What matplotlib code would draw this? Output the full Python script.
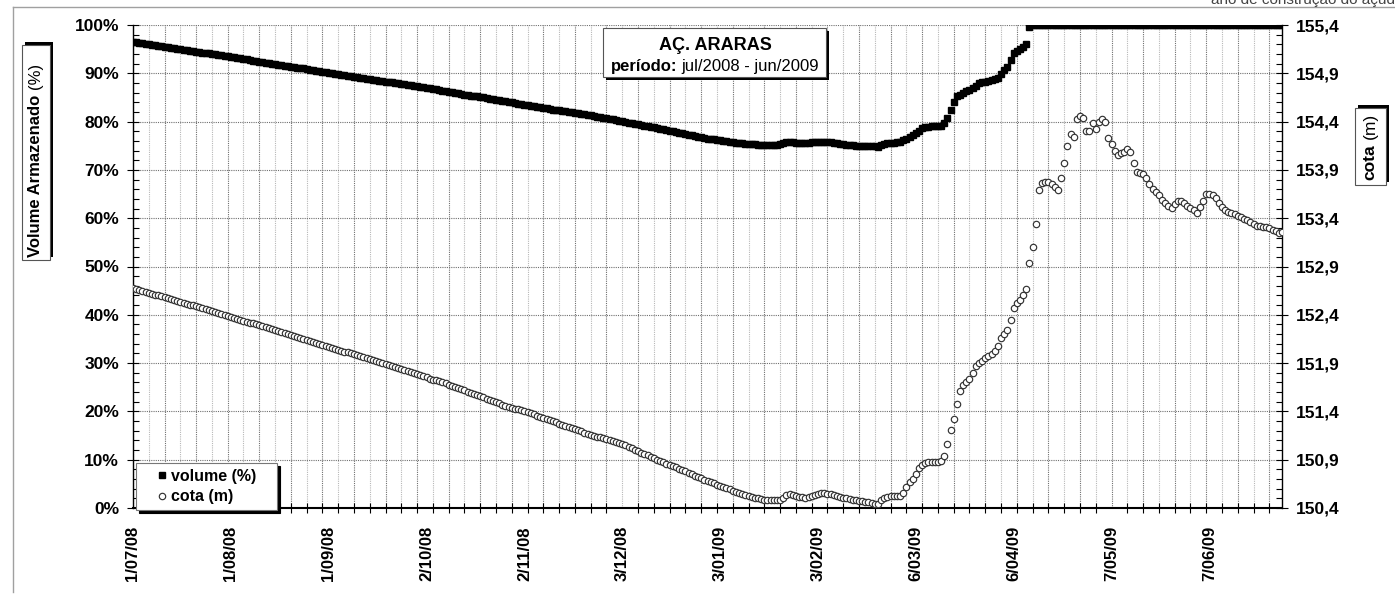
import matplotlib
matplotlib.use("Agg")
import matplotlib.pyplot as plt
from matplotlib.patches import Rectangle
from matplotlib.lines import Line2D
from matplotlib.ticker import MultipleLocator, FuncFormatter

plt.rcParams['font.family'] = ['Liberation Sans Narrow', 'Liberation Sans', 'DejaVu Sans']

# daily reservoir level (cota, m), jul/2008 - jun/2009
cota_jul = [152.68, 152.67, 152.66, 152.65, 152.64, 152.63, 152.62, 152.61, 152.60, 152.59, 152.58,
            152.57, 152.56, 152.55, 152.54, 152.53, 152.52, 152.51, 152.50, 152.50, 152.49, 152.48,
            152.47, 152.46, 152.45, 152.44, 152.43, 152.42, 152.41, 152.40, 152.39]
cota_aug = [152.38, 152.37, 152.36, 152.35, 152.34, 152.33, 152.32, 152.31, 152.30, 152.29, 152.28,
            152.27, 152.26, 152.25, 152.24, 152.23, 152.22, 152.21, 152.20, 152.19, 152.18, 152.17,
            152.16, 152.15, 152.14, 152.13, 152.12, 152.11, 152.10, 152.09, 152.08]
cota_sep = [152.07, 152.06, 152.05, 152.04, 152.03, 152.02, 152.01, 152.00, 151.99, 151.98, 151.97,
            151.96, 151.95, 151.94, 151.93, 151.92, 151.91, 151.90, 151.89, 151.88, 151.87, 151.86,
            151.85, 151.84, 151.83, 151.82, 151.81, 151.80, 151.79, 151.78]
cota_oct = [151.77, 151.76, 151.74, 151.73, 151.72, 151.71, 151.70, 151.69, 151.67, 151.66, 151.65,
            151.64, 151.63, 151.62, 151.60, 151.59, 151.58, 151.57, 151.56, 151.55, 151.53, 151.52,
            151.51, 151.50, 151.49, 151.47, 151.46, 151.45, 151.44, 151.43, 151.42]
cota_nov = [151.41, 151.40, 151.39, 151.38, 151.37, 151.35, 151.34, 151.33, 151.32, 151.31, 151.30,
            151.29, 151.27, 151.26, 151.25, 151.24, 151.23, 151.22, 151.21, 151.20, 151.18, 151.17,
            151.16, 151.15, 151.14, 151.13, 151.12, 151.11, 151.10, 151.09]
cota_dec = [151.08, 151.07, 151.06, 151.05, 151.03, 151.02, 151.00, 150.99, 150.97, 150.96, 150.95,
            150.93, 150.92, 150.90, 150.89, 150.88, 150.86, 150.85, 150.83, 150.82, 150.80, 150.79,
            150.78, 150.76, 150.75, 150.73, 150.72, 150.71, 150.69, 150.68, 150.67]
cota_jan = [150.655, 150.64, 150.63, 150.62, 150.61, 150.595, 150.58, 150.57, 150.56, 150.55, 150.535,
            150.525, 150.515, 150.505, 150.50, 150.49, 150.485, 150.48, 150.48, 150.48, 150.48, 150.48,
            150.50, 150.535, 150.54, 150.535, 150.525, 150.515, 150.51, 150.50, 150.51]
cota_feb = [150.525, 150.535, 150.55, 150.56, 150.555, 150.55, 150.545, 150.535, 150.525, 150.515,
            150.505, 150.50, 150.49, 150.485, 150.48, 150.475, 150.47, 150.465, 150.46, 150.455,
            150.445, 150.44, 150.485, 150.50, 150.515, 150.525, 150.525, 150.525]
cota_mar = [150.525, 150.56, 150.62, 150.665, 150.705, 150.75, 150.81, 150.845, 150.87, 150.875,
            150.875, 150.875, 150.875, 150.89, 150.94, 151.06, 151.205, 151.32, 151.475, 151.61,
            151.675, 151.705, 151.735, 151.80, 151.865, 151.90, 151.92, 151.95, 151.975, 151.995, 152.03]
cota_apr = [152.075, 152.16, 152.20, 152.24, 152.35, 152.47, 152.52, 152.555, 152.60, 152.67,
            152.935, 153.105, 153.345, 153.695, 153.765, 153.77, 153.77, 153.75, 153.725, 153.695,
            153.815, 153.975, 154.15, 154.27, 154.245, 154.425, 154.46, 154.435, 154.305, 154.30]
cota_may = [154.39, 154.32, 154.40, 154.425, 154.40, 154.23, 154.165, 154.10, 154.055, 154.07,
            154.09, 154.12, 154.085, 153.975, 153.88, 153.87, 153.855, 153.815, 153.755, 153.705,
            153.675, 153.635, 153.59, 153.555, 153.53, 153.505, 153.545, 153.575, 153.58, 153.56, 153.53]
cota_jun = [153.51, 153.48, 153.455, 153.52, 153.58, 153.65, 153.65, 153.64, 153.605, 153.56,
            153.52, 153.49, 153.465, 153.455, 153.44, 153.425, 153.41, 153.39, 153.38, 153.365,
            153.34, 153.32, 153.315, 153.31, 153.305, 153.295, 153.28, 153.265, 153.25, 153.26]

# daily stored volume (%)
vol_jul = [96.5, 96.4, 96.3, 96.2, 96.1, 96.0, 95.9, 95.8, 95.7, 95.6, 95.5, 95.4, 95.3, 95.2, 95.1, 95.0,
           94.9, 94.8, 94.7, 94.6, 94.5, 94.4, 94.3, 94.2, 94.1, 94.0, 93.9, 93.8, 93.7, 93.6, 93.5]
vol_aug = [93.4, 93.3, 93.2, 93.1, 93.0, 92.9, 92.8, 92.6, 92.5, 92.4, 92.3, 92.2, 92.1, 92.0, 91.9, 91.8,
           91.7, 91.6, 91.5, 91.4, 91.3, 91.2, 91.1, 91.0, 90.8, 90.7, 90.6, 90.5, 90.4, 90.3, 90.2]
vol_sep = [90.1, 90.0, 89.9, 89.8, 89.7, 89.6, 89.5, 89.4, 89.3, 89.2, 89.1, 89.0, 88.9, 88.8, 88.7, 88.6,
           88.5, 88.4, 88.3, 88.2, 88.1, 88.0, 87.9, 87.8, 87.7, 87.6, 87.5, 87.4, 87.3, 87.2]
vol_oct = [87.1, 87.0, 86.9, 86.8, 86.7, 86.5, 86.4, 86.3, 86.2, 86.1, 86.0, 85.9, 85.8, 85.6, 85.5, 85.4,
           85.3, 85.2, 85.1, 85.0, 84.9, 84.7, 84.6, 84.5, 84.4, 84.3, 84.2, 84.1, 84.0, 83.8, 83.7]
vol_nov = [83.6, 83.5, 83.4, 83.3, 83.2, 83.1, 83.0, 82.9, 82.8, 82.7, 82.5, 82.4, 82.3, 82.2, 82.1, 82.0,
           81.9, 81.8, 81.7, 81.6, 81.5, 81.4, 81.3, 81.2, 81.0, 80.9, 80.8, 80.7, 80.6, 80.5]
vol_dec = [80.3, 80.2, 80.1, 79.9, 79.8, 79.7, 79.5, 79.4, 79.3, 79.1, 79.0, 78.9, 78.8, 78.6, 78.5, 78.4,
           78.2, 78.1, 78.0, 77.8, 77.7, 77.6, 77.4, 77.3, 77.2, 77.1, 76.9, 76.8, 76.7, 76.5, 76.4]
vol_jan = [76.3, 76.2, 76.1, 76.0, 75.9, 75.8, 75.7, 75.6, 75.6, 75.5, 75.4, 75.4, 75.3, 75.3, 75.2, 75.2,
           75.2, 75.2, 75.2, 75.2, 75.2, 75.3, 75.6, 75.8, 75.8, 75.7, 75.6, 75.6, 75.5, 75.5, 75.6]
vol_feb = [75.7, 75.8, 75.8, 75.8, 75.8, 75.7, 75.7, 75.6, 75.5, 75.4, 75.3, 75.2, 75.1, 75.1, 75.0, 75.0,
           75.0, 75.0, 74.9, 74.9, 74.9, 74.8, 75.2, 75.4, 75.5, 75.6, 75.6, 75.7]
vol_mar = [75.8, 76.1, 76.5, 76.8, 77.2, 77.6, 78.1, 78.6, 78.8, 78.9, 79.0, 79.0, 79.0, 79.1, 79.8, 80.7,
           82.4, 84.0, 85.3, 85.6, 86.0, 86.3, 86.5, 86.9, 87.4, 87.9, 88.1, 88.3, 88.5, 88.6, 88.8]
vol_apr = [89.0, 89.8, 90.6, 91.4, 92.8, 94.1, 94.6, 95.0, 95.4, 96.0, 99.6, 100, 100, 100, 100, 100,
           100, 100, 100, 100, 100, 100, 100, 100, 100, 100, 100, 100, 100, 100]
vol_may = [100, 100, 100, 100, 100, 100, 100, 100, 100, 100, 100, 100, 100, 100, 100, 100,
           100, 100, 100, 100, 100, 100, 100, 100, 100, 100, 100, 100, 100, 100, 100]
vol_jun = [100, 100, 100, 100, 100, 100, 100, 100, 100, 100, 100, 100, 100, 100, 100,
           100, 100, 100, 100, 100, 100, 100, 100, 100, 100, 100, 100, 100, 100, 100]

date_labels = ["1/07/08", "1/08/08", "1/09/08", "2/10/08", "2/11/08", "3/12/08",
               "3/01/09", "3/02/09", "6/03/09", "6/04/09", "7/05/09", "7/06/09"]

cota = (cota_jul + cota_aug + cota_sep + cota_oct + cota_nov + cota_dec +
        cota_jan + cota_feb + cota_mar + cota_apr + cota_may + cota_jun)
volume = (vol_jul + vol_aug + vol_sep + vol_oct + vol_nov + vol_dec +
          vol_jan + vol_feb + vol_mar + vol_apr + vol_may + vol_jun)
days = list(range(len(cota)))

W, H = 1395, 599


def fx(px):
    return px / W


def fy(py):
    return 1 - py / H


def shadow_box(fig, x0, y0, x1, y1, dx, dy):
    # box given in pixel coords (origin top-left), with a solid black shadow
    fig.add_artist(Rectangle((fx(x0 + dx), fy(y1 + dy)), (x1 - x0) / W, (y1 - y0) / H,
                             transform=fig.transFigure, facecolor="black", edgecolor="none", zorder=5))
    fig.add_artist(Rectangle((fx(x0), fy(y1)), (x1 - x0) / W, (y1 - y0) / H,
                             transform=fig.transFigure, facecolor="white", edgecolor="#555555",
                             lw=0.8, zorder=6))


fig = plt.figure(figsize=(W / 100, H / 100), dpi=100)
ax = fig.add_axes([fx(133), fy(508), (1282 - 133) / W, (508 - 25) / H])
ax.set_xlim(0, len(days) - 1)
ax.set_ylim(0, 100)

# dotted grid
for d in range(0, len(days), 5):
    ax.axvline(d, color="#707070" if d % 10 == 0 else "#b8b8b8", lw=0.8, ls=(0, (1, 1)), zorder=0)
for v in range(10, 101, 10):
    ax.axhline(v, color="#707070", lw=0.8, ls=(0, (1, 1)), zorder=0)

vol_line, = ax.plot(days, volume, ls="none", marker="s", ms=4.8, color="black",
                    mec="black", label="volume (%)", zorder=3)

ax2 = ax.twinx()
ax2.set_ylim(150.4, 155.4)
cota_line, = ax2.plot(days, cota, ls="none", marker="o", ms=4.6, mfc="white", mec="#333333",
                      mew=0.85, label="cota (m)", zorder=3)

# x axis
ax.set_xticks(range(0, 12 * 31, 31))
ax.set_xticklabels(date_labels, rotation=90, fontweight="bold", fontsize=12)
ax.set_xticks(range(0, len(days), 5), minor=True)
ax.tick_params(axis="x", which="major", length=0, pad=13)
ax.tick_params(axis="x", which="minor", direction="inout", length=7, width=0.8)

# left axis
ax.set_yticks(range(0, 101, 10))
ax.yaxis.set_major_formatter(FuncFormatter(lambda v, p: f"{int(v)}%"))
ax.yaxis.set_minor_locator(MultipleLocator(2))
ax.tick_params(axis="y", which="major", direction="inout", length=8, width=0.8, labelsize=12.5, pad=6)
ax.tick_params(axis="y", which="minor", direction="in", length=4, width=0.8)
plt.setp(ax.get_yticklabels(), fontweight="bold")

# right axis
ax2.set_yticks([150.4 + 0.5 * i for i in range(11)])
ax2.yaxis.set_major_formatter(FuncFormatter(lambda v, p: f"{v:.1f}".replace(".", ",")))
ax2.yaxis.set_minor_locator(MultipleLocator(0.1))
ax2.tick_params(axis="y", which="major", direction="inout", length=8, width=0.8, labelsize=12.5, pad=6)
ax2.tick_params(axis="y", which="minor", direction="in", length=4, width=0.8)
plt.setp(ax2.get_yticklabels(), fontweight="bold")

for a in (ax, ax2):
    a.spines["top"].set_visible(False)
ax2.spines["left"].set_visible(False)
ax2.spines["bottom"].set_visible(False)
ax.spines["right"].set_visible(False)
ax.spines["left"].set_linewidth(1.0)
ax.spines["bottom"].set_linewidth(1.5)
ax2.spines["right"].set_linewidth(1.0)

# chart area border (light gray)
fig.add_artist(Line2D([fx(13), 1], [fy(7), fy(7)], transform=fig.transFigure, color="#a0a0a0", lw=1))
fig.add_artist(Line2D([fx(13), fx(13)], [fy(7), fy(592)], transform=fig.transFigure, color="#a0a0a0", lw=1))
fig.text(fx(1211), fy(4), "ano de construção do açude", fontsize=11, color="#444444",
         ha="left", va="baseline")

# title box
shadow_box(fig, 603, 28, 826, 77, 3, 3)
fig.text(fx(715), fy(45), "AÇ. ARARAS", fontsize=13, fontweight="bold", ha="center", va="center", zorder=7)
t_bold = fig.text(0, fy(67), "período:", fontsize=12, fontweight="bold", ha="left", va="center", zorder=7)
t_reg = fig.text(0, fy(67), "jul/2008 - jun/2009", fontsize=12, ha="left", va="center", zorder=7)

# axis titles in boxes
shadow_box(fig, 22, 45, 50, 260, 3, -3)
t_vol = fig.text(fx(36), fy(257), "Volume Armazenado", rotation=90, fontsize=12, fontweight="bold",
                 ha="center", va="bottom", zorder=7)
t_pct = fig.text(fx(36), 0, "(%)", rotation=90, fontsize=12, ha="center", va="bottom", zorder=7)

shadow_box(fig, 1355, 108, 1386, 185, 3, -3)
t_cota = fig.text(fx(1370), fy(180), "cota", rotation=90, fontsize=12.5, fontweight="bold",
                  ha="center", va="bottom", zorder=7)
t_m = fig.text(fx(1370), 0, "(m)", rotation=90, fontsize=12.5, ha="center", va="bottom", zorder=7)

# place the mixed-weight pieces next to each other
fig.canvas.draw()
r = fig.canvas.get_renderer()
w1 = t_bold.get_window_extent(r).width
w2 = t_reg.get_window_extent(r).width
x_start = 715 - (w1 + 4 + w2) / 2
t_bold.set_x(fx(x_start))
t_reg.set_x(fx(x_start + w1 + 4))
t_pct.set_y(t_vol.get_window_extent(r).y1 / H + 6 / H)
t_m.set_y(t_cota.get_window_extent(r).y1 / H + 5 / H)

# legend
leg = ax2.legend(handles=[vol_line, cota_line], loc="lower left",
                 bbox_to_anchor=(fx(136), fy(510), 141 / W, 47 / H), bbox_transform=fig.transFigure,
                 mode="expand", borderaxespad=0, fancybox=False, framealpha=1,
                 edgecolor="#777777", shadow={"color": "black", "alpha": 1},
                 handlelength=2.6, handletextpad=-0.75, borderpad=0.35, labelspacing=0.35,
                 prop={"weight": "bold", "size": 11.5})
leg.get_frame().set_linewidth(0.8)

fig.savefig("out.png", dpi=100)
